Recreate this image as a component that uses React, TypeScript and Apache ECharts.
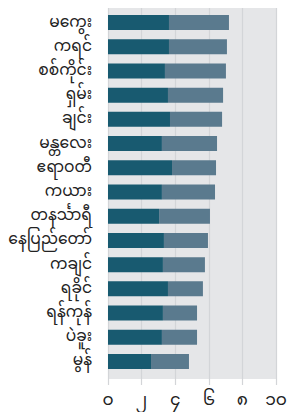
import React, { useEffect, useRef } from "react";
import * as echarts from "echarts";

const categories = ["မကွေး", "ကရင်", "စစ်ကိုင်း", "ရှမ်း", "ချင်း", "မန္တလေး", "ဧရာဝတီ", "ကယား", "တနင်္သာရီ", "နေပြည်တော်", "ကချင်", "ရခိုင်", "ရန်ကုန်", "ပဲခူး", "မွန်"];
const darkValues = [3.63, 3.63, 3.39, 3.57, 3.69, 3.21, 3.81, 3.21, 3.04, 3.33, 3.27, 3.57, 3.27, 3.21, 2.56];
const lightValues = [3.57, 3.45, 3.63, 3.28, 3.1, 3.28, 2.62, 3.16, 3.03, 2.62, 2.5, 2.08, 2.03, 2.09, 2.26];
const tickLabels: Record<number, string> = { 0: "၀", 2: "၂", 4: "၄", 6: "၆", 8: "၈", 10: "၁၀" };

export default function App() {
  const ref = useRef<HTMLDivElement>(null);
  useEffect(() => {
    const chart = echarts.init(ref.current!, null, { renderer: "svg" });
    chart.setOption({
      animation: false,
      grid: [
        { left: 108, top: 8, width: 168, height: 371, show: true, backgroundColor: "#e5e6e8", borderWidth: 0, outerBoundsMode: "none", containLabel: false },
        { left: 108, top: 10.4, width: 168, height: 363.2, outerBoundsMode: "none", containLabel: false },
      ],
      xAxis: [
        {
          gridIndex: 0, type: "value", min: 0, max: 10, interval: 2,
          axisLine: { show: false },
          axisTick: { show: true, length: 6, lineStyle: { color: "#d3d5d8", width: 1.2 } },
          splitLine: { show: true, lineStyle: { color: "#d3d5d8", width: 1.2 } },
          axisLabel: { margin: 13, fontSize: 17, lineHeight: 18, color: "#222", fontFamily: "Noto Sans Myanmar, Padauk, sans-serif", formatter: (v: number) => tickLabels[v] ?? "" },
        },
        { gridIndex: 1, type: "value", min: 0, max: 10, show: false },
      ],
      yAxis: [
        { gridIndex: 0, type: "value", show: false, min: 0, max: 1 },
        {
          gridIndex: 1, type: "category", inverse: true, data: categories,
          axisLine: { show: false }, axisTick: { show: false },
          axisLabel: { margin: 16, fontSize: 15.5, lineHeight: 18, color: "#222", fontFamily: "Noto Sans Myanmar, Padauk, sans-serif" },
        },
      ],
      series: [
        { type: "bar", xAxisIndex: 1, yAxisIndex: 1, stack: "a", data: darkValues, barWidth: 15, itemStyle: { color: "#185a70" } },
        { type: "bar", xAxisIndex: 1, yAxisIndex: 1, stack: "a", data: lightValues, barWidth: 15, itemStyle: { color: "#5a7a8e" } },
      ],
    });
    return () => chart.dispose();
  }, []);
  return <div ref={ref} style={{ position: "absolute", left: 0, top: 0, width: 289, height: 412 }} />;
}
